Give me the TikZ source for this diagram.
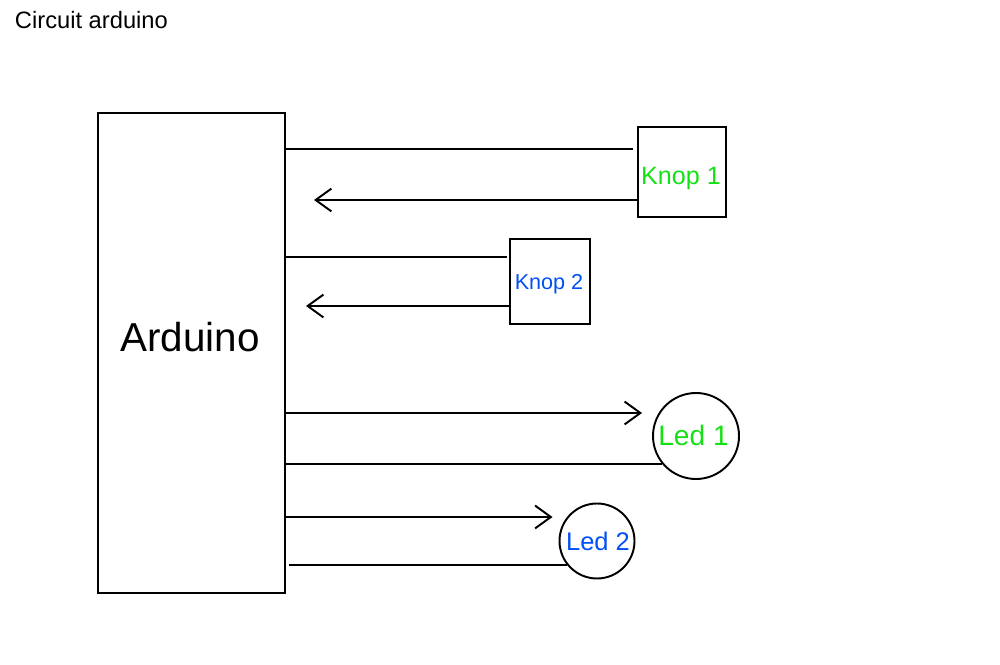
\documentclass[tikz,border=0pt]{standalone}
\usepackage{fontspec}
\setmainfont{Liberation Sans}
\usepackage{xcolor}
\usepackage{tikz}
\usetikzlibrary{arrows.meta,calc}
\definecolor{knopgreen}{RGB}{20,225,20}
\definecolor{knopblue}{RGB}{0,80,245}
\newcommand{\pix}{0.02cm}
\newcommand{\fs}[1]{\fontsize{#1}{1.2\dimexpr#1pt\relax}\selectfont}

\begin{document}
\begin{tikzpicture}[x=0.02cm,y=-0.02cm,line width=1.1pt,
  arr/.style={-{Straight Barb[length=9pt,width=13pt,line width=1.1pt]}}]
\useasboundingbox (0,0) rectangle (1000,665);
\node[anchor=base west,inner sep=0] (title) at (14,29) {\fs{13.5}Circuit arduino};
% parts
\node[draw,inner sep=0,minimum width=187*\pix,minimum height=480*\pix] (ard) at (191.5,353) {};
\node[draw,inner sep=0,minimum width=88*\pix,minimum height=90*\pix] (knop1) at (682,172) {};
\node[draw,inner sep=0,minimum width=80*\pix,minimum height=85*\pix] (knop2) at (550,281.5) {};
\node[draw,circle,inner sep=0,minimum size=86*\pix] (led1) at (696,436) {};
\node[draw,circle,inner sep=0,minimum size=75*\pix] (led2) at (597,541) {};
% texts
\node[anchor=base] (ardtxt) at ($(ard)+(-1.5,-1)$) {\fs{23}Arduino};
\node[anchor=base,text=knopgreen] (knop1txt) at ($(knop1)+(-1,13)$) {\fs{14.3}Knop 1};
\node[anchor=base,text=knopblue] (knop2txt) at ($(knop2)+(-1,8.5)$) {\fs{12.3}Knop 2};
\node[anchor=base,text=knopgreen] (led1txt) at ($(led1)+(-2.5,9)$) {\fs{16}Led 1};
\node[anchor=base,text=knopblue] (led2txt) at ($(led2)+(1,9)$) {\fs{14.5}Led 2};
% wires
\coordinate (k1a) at ($(knop1.west)+(-4,-23)$);
\coordinate (k1b) at ($(knop1.west)+(0,28)$);
\coordinate (k2a) at ($(knop2.west)+(-2,-24.5)$);
\coordinate (k2b) at ($(knop2.west)+(0,24.5)$);
\coordinate (l1a) at ($(led1.west)+(-10,-23)$);
\coordinate (l2a) at ($(led2.west)+(-6,-24)$);
\draw (ard.east |- k1a) -- (k1a);
\draw[arr] (k1b) -- ($(ard.east |- k1b)+(28,0)$);
\draw (ard.east |- k2a) -- (k2a);
\draw[arr] (k2b) -- ($(ard.east |- k2b)+(20,0)$);
\draw[arr] (ard.east |- l1a) -- (l1a);
\draw (ard.east |- led1.220) -- (led1.220);
\draw[arr] (ard.east |- l2a) -- (l2a);
\draw ($(ard.east |- led2.218)+(3,0)$) -- (led2.218);
\end{tikzpicture}
\end{document}
